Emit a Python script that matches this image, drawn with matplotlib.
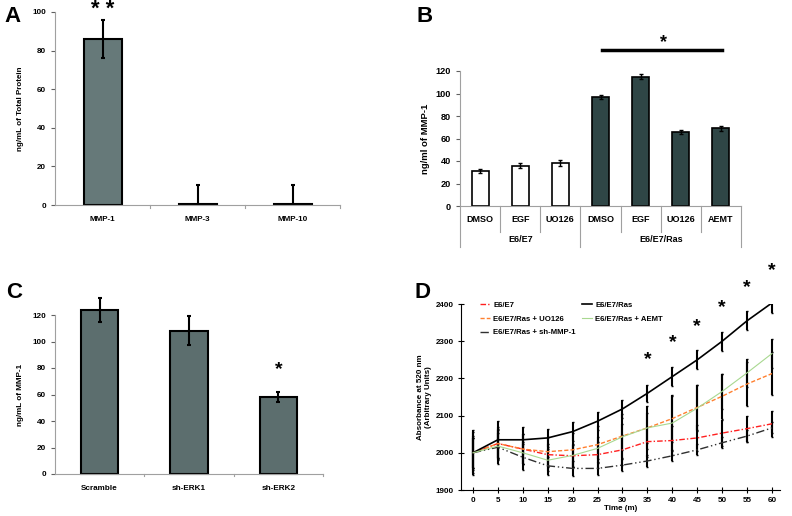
import numpy as np
import matplotlib
matplotlib.use("Agg")
import matplotlib.pyplot as plt

plt.rcParams['font.family'] = ['Liberation Sans', 'DejaVu Sans']
plt.rcParams['font.weight'] = 'bold'

# panel A
a_labels = ["MMP-1", "MMP-3", "MMP-10"]
a_vals = [86, 0.5, 0.5]
a_err = [10, 10, 10]

# panel B
b_labels = ["DMSO", "EGF", "UO126", "DMSO", "EGF", "UO126", "AEMT"]
b_groups = ["E6/E7", "E6/E7/Ras"]
b_group_sizes = [3, 4]
b_vals = [31, 36, 38, 97, 115, 66, 69]
b_err = [2, 2, 2.5, 2, 2, 2, 2]

# panel C
c_labels = ["Scramble", "sh-ERK1", "sh-ERK2"]
c_vals = [124, 108, 58]
c_err = [9, 11, 4]

# panel D
d_time = [0, 5, 10, 15, 20, 25, 30, 35, 40, 45, 50, 55, 60]
d_e6e7 = [2000, 2025, 2010, 1995, 1992, 1995, 2008, 2030, 2033, 2040, 2053, 2065, 2078]
d_ras = [2000, 2035, 2035, 2040, 2057, 2085, 2118, 2160, 2205, 2250, 2300, 2355, 2403]
d_uo = [2000, 2025, 2010, 2003, 2008, 2022, 2045, 2067, 2092, 2122, 2152, 2185, 2213]
d_aemt = [2000, 2018, 2000, 1980, 1993, 2012, 2043, 2067, 2080, 2120, 2165, 2215, 2267]
d_sh = [2000, 2015, 1988, 1965, 1958, 1958, 1967, 1978, 1992, 2008, 2027, 2045, 2067]
d_e6e7_err = [45, 45, 40, 30, 30, 35, 40, 40, 40, 35, 35, 35, 35]
d_ras_err = [60, 50, 35, 25, 25, 25, 25, 23, 25, 26, 26, 25, 26]
d_uo_err = [40, 40, 40, 40, 45, 50, 60, 58, 62, 60, 60, 60, 58]
d_aemt_err = [40, 35, 30, 30, 30, 30, 35, 40, 75, 62, 48, 37, 40]
d_sh_err = [55, 45, 35, 25, 20, 18, 15, 15, 15, 15, 15, 15, 15]
d_star_y = [2250, 2295, 2338, 2390, 2443, 2489]

W, H = 792, 516
fig = plt.figure(figsize=(W / 100, H / 100), dpi=100)


def px_axes(l, r, t, b):
    return fig.add_axes([l / W, 1 - b / H, (r - l) / W, (b - t) / H])


def style(ax, size):
    for s in ["top", "right"]:
        ax.spines[s].set_visible(False)
    for s in ["left", "bottom"]:
        ax.spines[s].set_color("#a0a0a0")
        ax.spines[s].set_linewidth(0.8)
    ax.tick_params(labelsize=size, length=3, width=0.8, color="#606060")
    for t in ax.get_yticklabels() + ax.get_xticklabels():
        t.set_fontweight("bold")


def panel_letter(x, y, s):
    fig.text(x / W, 1 - y / H, s, fontsize=16, fontweight="bold", va="center")


err_kw = dict(elinewidth=1.5, capsize=1.5, capthick=1.5, ecolor="black")

# ---------- A ----------
ax = px_axes(55, 340, 12, 205)
x = np.arange(len(a_vals))
ax.bar(x, a_vals, width=0.4, color="#667979", edgecolor="black", linewidth=1.5)
ax.errorbar(x, a_vals, yerr=[[min(v, e) for v, e in zip(a_vals, a_err)], a_err],
            fmt="none", **err_kw)
ax.set_xlim(-0.5, 2.5)
ax.set_ylim(0, 100)
ax.set_yticks(range(0, 101, 20))
ax.set_xticks(x)
ax.set_xticklabels(a_labels)
ax.set_ylabel("ng/mL of Total Protein", fontsize=5.8, fontweight="bold", labelpad=6)
style(ax, 5.8)
ax.tick_params(axis="x", length=0, pad=8)
for xv in [0.5, 1.5, 2.5]:
    ax.plot([xv, xv], [0, -0.015], color="#a0a0a0", lw=0.8,
            transform=ax.get_xaxis_transform(), clip_on=False)
ax.text(0, 101.5, "* *", ha="center", va="center", fontsize=16, fontweight="bold",
        clip_on=False)
panel_letter(4, 16, "A")

# ---------- B ----------
ax = px_axes(460, 741, 71, 206)
x = np.arange(len(b_vals))
colors = ["white"] * b_group_sizes[0] + ["#2f4646"] * b_group_sizes[1]
ax.bar(x, b_vals, width=0.42, color=colors, edgecolor="black", linewidth=1.2)
ax.errorbar(x, b_vals, yerr=b_err, fmt="none", elinewidth=1.0, capsize=1.5,
            capthick=1.0, ecolor="black")
ax.set_xlim(-0.5, 6.5)
ax.set_ylim(0, 120)
ax.set_yticks(range(0, 121, 20))
ax.set_xticks([])
ax.set_ylabel("ng/ml of MMP-1", fontsize=6.8, fontweight="bold")
style(ax, 6.6)
tr = ax.get_xaxis_transform()
for i, lab in enumerate(b_labels):
    ax.text(i, -0.1, lab, transform=tr, ha="center", va="center", fontsize=6.5,
            fontweight="bold")
start = -0.5
for g, n in zip(b_groups, b_group_sizes):
    mid = start + n / 2
    ax.text(mid, -0.245, g, transform=tr, ha="center", va="center", fontsize=6.5,
            fontweight="bold")
    ax.plot([start, start], [0, -0.3], color="#a0a0a0", lw=0.8, transform=tr, clip_on=False)
    for k in range(1, n):
        ax.plot([start + k, start + k], [0, -0.19], color="#a0a0a0", lw=0.8,
                transform=tr, clip_on=False)
    start += n
ax.plot([start, start], [0, -0.3], color="#a0a0a0", lw=0.8, transform=tr, clip_on=False)
ax.plot([3.04, 6.03], [138.7, 138.7], color="black", lw=2.5, clip_on=False)
ax.text(4.56, 145, "*", ha="center", va="center", fontsize=13, fontweight="bold",
        clip_on=False)
panel_letter(416, 16, "B")

# ---------- C ----------
ax = px_axes(55, 323, 315, 474)
x = np.arange(len(c_vals))
ax.bar(x, c_vals, width=0.42, color="#5c6e6e", edgecolor="black", linewidth=1.5,
       clip_on=False)
eb = ax.errorbar(x, c_vals, yerr=c_err, fmt="none", **err_kw)
for art in eb.lines[1] + eb.lines[2]:
    art.set_clip_on(False)
ax.set_xlim(-0.5, 2.5)
ax.set_ylim(0, 120)
ax.set_yticks(range(0, 121, 20))
ax.set_xticks(x)
ax.set_xticklabels(c_labels)
ax.set_ylabel("ng/mL of MMP-1", fontsize=5.9, fontweight="bold", labelpad=6)
style(ax, 5.9)
ax.tick_params(axis="x", length=0, pad=8)
for xv in [0.5, 1.5, 2.5]:
    ax.plot([xv, xv], [0, -0.015], color="#a0a0a0", lw=0.8,
            transform=ax.get_xaxis_transform(), clip_on=False)
ax.text(2, 79, "*", ha="center", va="center", fontsize=14, fontweight="bold")
panel_letter(6, 293, "C")

# ---------- D ----------
ax = px_axes(461, 780, 304, 490)
series = [
    ("E6/E7", d_e6e7, d_e6e7_err, "#ff2020", (0, (4, 1.5, 1, 1.5)), 1.0),
    ("E6/E7/Ras + UO126", d_uo, d_uo_err, "#ff8030", (0, (3, 1.5)), 1.0),
    ("E6/E7/Ras + sh-MMP-1", d_sh, d_sh_err, "#303030", (0, (6, 2, 1, 2, 1, 2)), 1.0),
    ("E6/E7/Ras", d_ras, d_ras_err, "black", "-", 1.2),
    ("E6/E7/Ras + AEMT", d_aemt, d_aemt_err, "#a8d890", "-", 0.8),
]
handles = []
for name, vals, err, col, ls, lw in series:
    ax.errorbar(d_time, vals, yerr=err, fmt="none", elinewidth=1.5, capsize=1,
                ecolor="black")
for name, vals, err, col, ls, lw in series:
    h, = ax.plot(d_time, vals, color=col, ls=ls, lw=lw, label=name)
    handles.append(h)
ax.legend(handles=handles, ncol=2, loc="upper left", bbox_to_anchor=(0.05, 1.03),
          frameon=False, handlelength=1.3, handletextpad=0.4, columnspacing=0.8,
          labelspacing=0.8, borderaxespad=0.0,
          prop={"weight": "bold", "size": 5.6})
for t, y in zip(d_time[7:], d_star_y):
    ax.text(t, y, "*", ha="center", va="center", fontsize=14, fontweight="bold",
            clip_on=False)
ax.set_xlim(-2.4, 61.6)
ax.set_ylim(1900, 2400)
ax.set_xticks(d_time)
ax.set_yticks(range(1900, 2401, 100))
ax.set_xlabel("Time (m)", fontsize=5.8, fontweight="bold", labelpad=1)
ax.set_ylabel("Absorbance at 520 nm\n(Arbitrary Units)", fontsize=5.8,
              fontweight="bold", labelpad=3)
style(ax, 5.8)
for s in ["left", "bottom"]:
    ax.spines[s].set_color("black")
ax.tick_params(color="black", direction="inout", length=4, pad=3)
panel_letter(415, 293, "D")

fig.savefig("out.png", dpi=100)
